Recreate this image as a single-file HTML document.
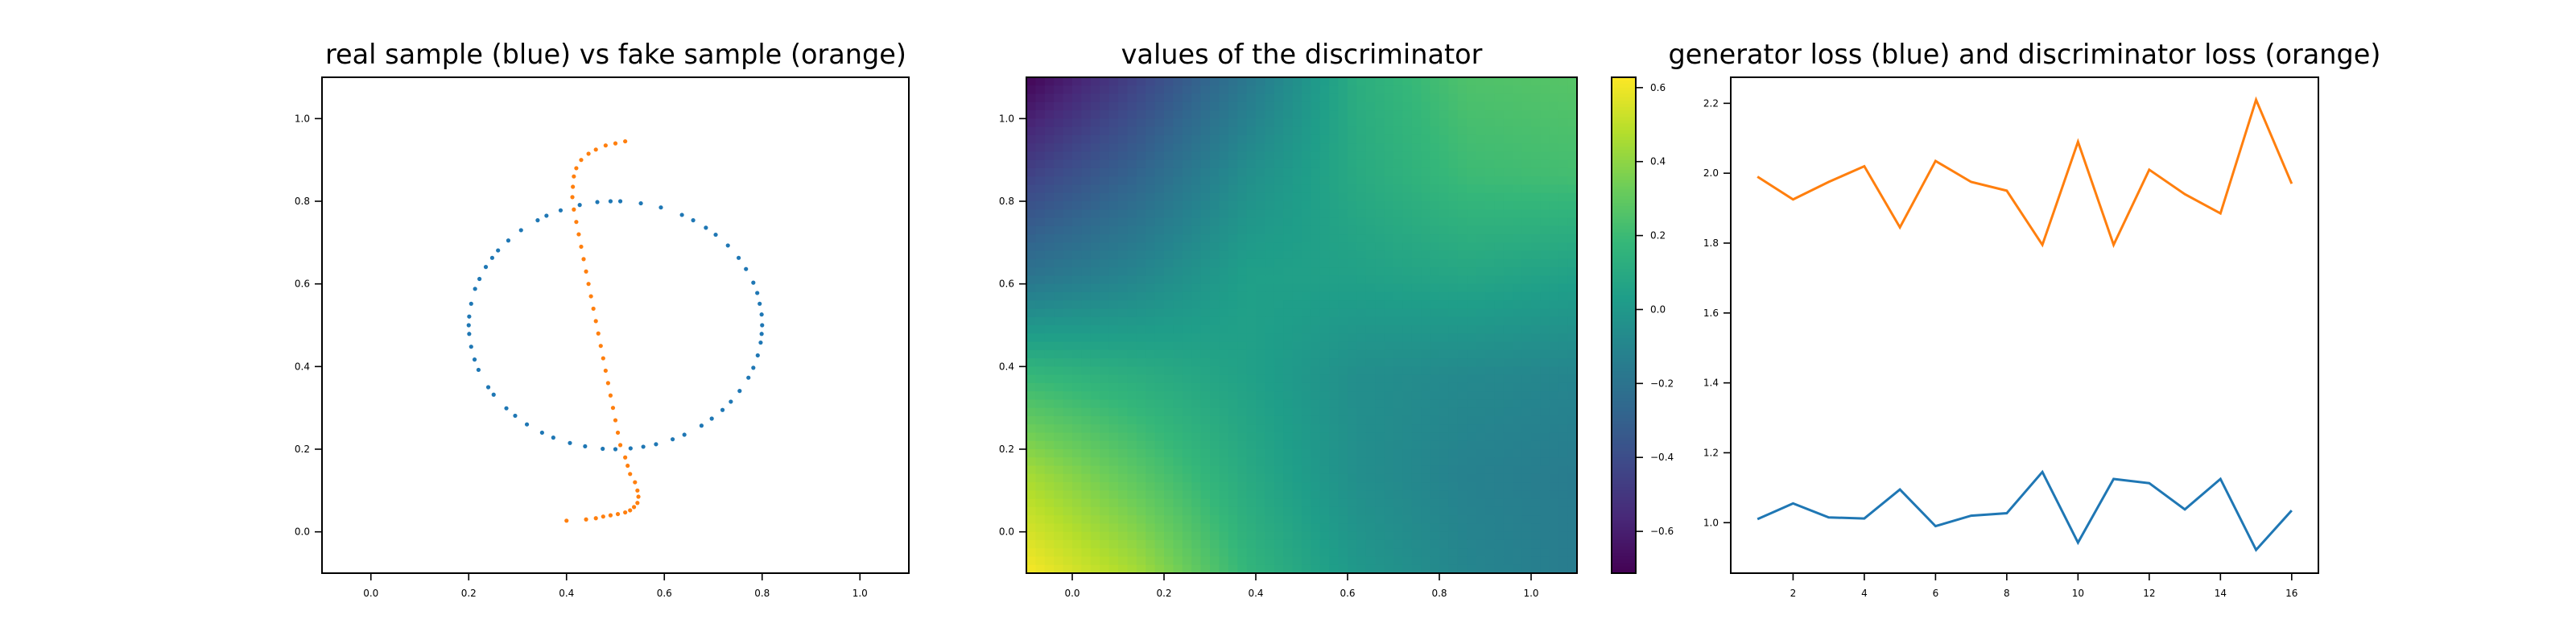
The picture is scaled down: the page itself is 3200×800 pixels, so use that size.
<!DOCTYPE html>
<html><head><meta charset="utf-8"><style>
html,body{margin:0;padding:0;background:#fff;}
svg{display:block;font-family:"DejaVu Sans","Liberation Sans",sans-serif;}
</style></head><body>
<svg id="fig" width="3200" height="800" viewBox="0 0 3200 800" xmlns="http://www.w3.org/2000/svg">
<rect width="3200" height="800" fill="#fff"/>
<text x="765" y="79" font-size="33.5" text-anchor="middle">real sample (blue) vs fake sample (orange)</text>
<text x="1617" y="79" font-size="33.5" text-anchor="middle">values of the discriminator</text>
<text x="2515" y="79" font-size="33.5" text-anchor="middle">generator loss (blue) and discriminator loss (orange)</text>
<g id="p1"></g>
<g id="p2"></g>
<g id="p3"></g>
</svg>
<script>
const realX=[0.800,0.799,0.795,0.790,0.782,0.767,0.752,0.730,0.705,0.685,0.659,0.636,0.593,0.552,0.510,0.490,0.463,0.427,0.388,0.359,0.341,0.307,0.281,0.260,0.248,0.235,0.222,0.213,0.205,0.201,0.200,0.201,0.205,0.212,0.220,0.240,0.251,0.277,0.295,0.319,0.350,0.373,0.407,0.438,0.474,0.500,0.531,0.557,0.583,0.617,0.641,0.676,0.697,0.719,0.736,0.754,0.772,0.782,0.791,0.797,0.799];
const realY=[0.500,0.526,0.552,0.578,0.603,0.636,0.663,0.693,0.719,0.736,0.754,0.767,0.785,0.795,0.800,0.800,0.798,0.791,0.778,0.765,0.754,0.730,0.705,0.681,0.663,0.641,0.612,0.588,0.552,0.521,0.500,0.479,0.448,0.417,0.392,0.350,0.332,0.299,0.281,0.260,0.240,0.228,0.215,0.207,0.201,0.200,0.202,0.206,0.212,0.224,0.235,0.257,0.274,0.295,0.315,0.341,0.373,0.397,0.427,0.458,0.479];
const fakeX=[0.52,0.50,0.48,0.46,0.445,0.43,0.42,0.415,0.413,0.412,0.415,0.42,0.425,0.43,0.435,0.44,0.445,0.45,0.455,0.46,0.465,0.47,0.475,0.48,0.485,0.49,0.495,0.50,0.505,0.51,0.52,0.525,0.53,0.54,0.545,0.547,0.545,0.538,0.53,0.52,0.505,0.49,0.475,0.46,0.44,0.40];
const fakeY=[0.945,0.94,0.935,0.925,0.915,0.90,0.88,0.86,0.835,0.81,0.78,0.75,0.72,0.69,0.66,0.63,0.60,0.57,0.54,0.51,0.48,0.45,0.42,0.39,0.36,0.33,0.30,0.27,0.24,0.21,0.18,0.16,0.14,0.12,0.10,0.085,0.07,0.06,0.052,0.047,0.043,0.04,0.037,0.033,0.03,0.027];
const unitTicks=["0.0","0.2","0.4","0.6","0.8","1.0"];
// discriminator grid, rows from y=1.1 (top) to y=-0.1, cols x=-0.1..1.1
const discGrid=[
[-0.70,-0.45,-0.18,0.12,0.25,0.27],
[-0.45,-0.28,-0.05,0.10,0.20,0.22],
[-0.20,-0.10,0.04,0.05,0.08,0.05],
[0.18,0.12,0.05,-0.05,-0.08,-0.10],
[0.45,0.28,0.10,-0.05,-0.12,-0.15],
[0.62,0.45,0.17,0.00,-0.10,-0.15]];
const cbTicks=["−0.6","−0.4","−0.2","0.0","0.2","0.4","0.6"];
const epochs=[1,2,3,4,5,6,7,8,9,10,11,12,13,14,15,16];
const genLoss=[1.01,1.055,1.015,1.012,1.095,0.99,1.02,1.027,1.145,0.943,1.125,1.113,1.038,1.125,0.922,1.035];
const discLoss=[1.99,1.925,1.975,2.02,1.845,2.035,1.975,1.95,1.795,2.09,1.795,2.01,1.94,1.885,2.21,1.97];
const lossXTicks=[2,4,6,8,10,12,14,16];
const lossYTicks=["1.0","1.2","1.4","1.6","1.8","2.0","2.2"];

const NS="http://www.w3.org/2000/svg";
function mk(p,t,a){const e=document.createElementNS(NS,t);for(const k in a)e.setAttribute(k,a[k]);p.appendChild(e);return e;}
function lin(d0,d1,r0,r1){return v=>r0+(v-d0)/(d1-d0)*(r1-r0);}
function frame(g,x0,y0,x1,y1){const r=mk(g,'rect',{x:x0,y:y0,width:x1-x0,height:y1-y0,fill:'none',stroke:'#000','stroke-width':2});}
function xtick(g,x,y,lab){mk(g,'line',{x1:x,x2:x,y1:y,y2:y+9,stroke:'#000','stroke-width':1.6});const t=mk(g,'text',{x:x,y:y+29,'font-size':12,'text-anchor':'middle'});t.textContent=lab;}
function ytick(g,x,y,lab){mk(g,'line',{x1:x,x2:x-9,y1:y,y2:y,stroke:'#000','stroke-width':1.6});const t=mk(g,'text',{x:x-15,y:y+4,'font-size':12,'text-anchor':'end'});t.textContent=lab;}

// Plot 1
(function(){const g=document.getElementById('p1');const X0=400,X1=1129,Y0=96,Y1=712;
const sx=lin(-0.1,1.1,X0,X1),sy=lin(-0.1,1.1,Y1,Y0);
realX.forEach((v,i)=>{const c=mk(g,'circle',{cx:sx(v),cy:sy(realY[i]),r:2.6,fill:'#1f77b4'});});
fakeX.forEach((v,i)=>{const c=mk(g,'circle',{cx:sx(v),cy:sy(fakeY[i]),r:2.6,fill:'#ff7f0e'});});
frame(g,X0,Y0,X1,Y1);
unitTicks.forEach(l=>{xtick(g,sx(+l),Y1,l);ytick(g,X0,sy(+l),l);});})();

// viridis
const VS=[[68,1,84],[72,40,120],[62,74,137],[49,104,142],[38,130,142],[31,158,137],[53,183,121],[109,205,89],[180,222,44],[253,231,37]];
function viridis(t){t=Math.max(0,Math.min(1,t))*(VS.length-1);const i=Math.min(VS.length-2,Math.floor(t)),f=t-i;const a=VS[i],b=VS[i+1];return 'rgb('+a.map((v,k)=>Math.round(v+(b[k]-v)*f)).join(',')+')';}
const VMIN=-0.713,VMAX=0.628;

// Plot 2
(function(){const g=document.getElementById('p2');const X0=1275,X1=1959,Y0=96,Y1=712;
const sx=lin(-0.1,1.1,X0,X1),sy=lin(-0.1,1.1,Y1,Y0);
const N=60,n=discGrid.length-1;
for(let r=0;r<N;r++)for(let c=0;c<N;c++){
 const u=(c+0.5)/N*n,v=(r+0.5)/N*n;const i=Math.min(n-1,Math.floor(v)),j=Math.min(n-1,Math.floor(u));const fu=u-j,fv=v-i;
 const val=discGrid[i][j]*(1-fu)*(1-fv)+discGrid[i][j+1]*fu*(1-fv)+discGrid[i+1][j]*(1-fu)*fv+discGrid[i+1][j+1]*fu*fv;
 const w=(X1-X0)/N,h=(Y1-Y0)/N;
 const e=mk(g,'rect',{x:X0+c*w,y:Y0+r*h,width:w+0.6,height:h+0.6,fill:viridis((val-VMIN)/(VMAX-VMIN))});
 }
frame(g,X0,Y0,X1,Y1);
unitTicks.forEach(l=>{xtick(g,sx(+l),Y1,l);ytick(g,X0,sy(+l),l);});
// colorbar
const C0=2002,C1=2032;const sc=lin(VMIN,VMAX,Y1,Y0);
const cb=mk(g,'g',{});
for(let k=0;k<150;k++){const h=(Y1-Y0)/150;mk(cb,'rect',{x:C0,y:Y0+k*h,width:C1-C0,height:h+0.6,fill:viridis(1-(k+0.5)/150)});}
frame(cb,C0,Y0,C1,Y1);
cbTicks.forEach(l=>{const v=parseFloat(l.replace('−','-'));const y=sc(v);mk(cb,'line',{x1:C1,x2:C1+9,y1:y,y2:y,stroke:'#000','stroke-width':1.6});const t=mk(cb,'text',{x:C1+18,y:y+4,'font-size':12});t.textContent=l;});
})();

// Plot 3
(function(){const g=document.getElementById('p3');const X0=2150,X1=2880,Y0=96,Y1=712;
const sx=lin(0.25,16.75,X0,X1),sy=lin(0.8555,2.2745,Y1,Y0);
const p1=mk(g,'polyline',{points:epochs.map((e,i)=>sx(e)+','+sy(genLoss[i])).join(' '),fill:'none',stroke:'#1f77b4','stroke-width':3});

const p2=mk(g,'polyline',{points:epochs.map((e,i)=>sx(e)+','+sy(discLoss[i])).join(' '),fill:'none',stroke:'#ff7f0e','stroke-width':3});

frame(g,X0,Y0,X1,Y1);
lossXTicks.forEach(v=>xtick(g,sx(v),Y1,String(v)));
lossYTicks.forEach(l=>ytick(g,X0,sy(+l),l));})();
</script>
</body></html>
